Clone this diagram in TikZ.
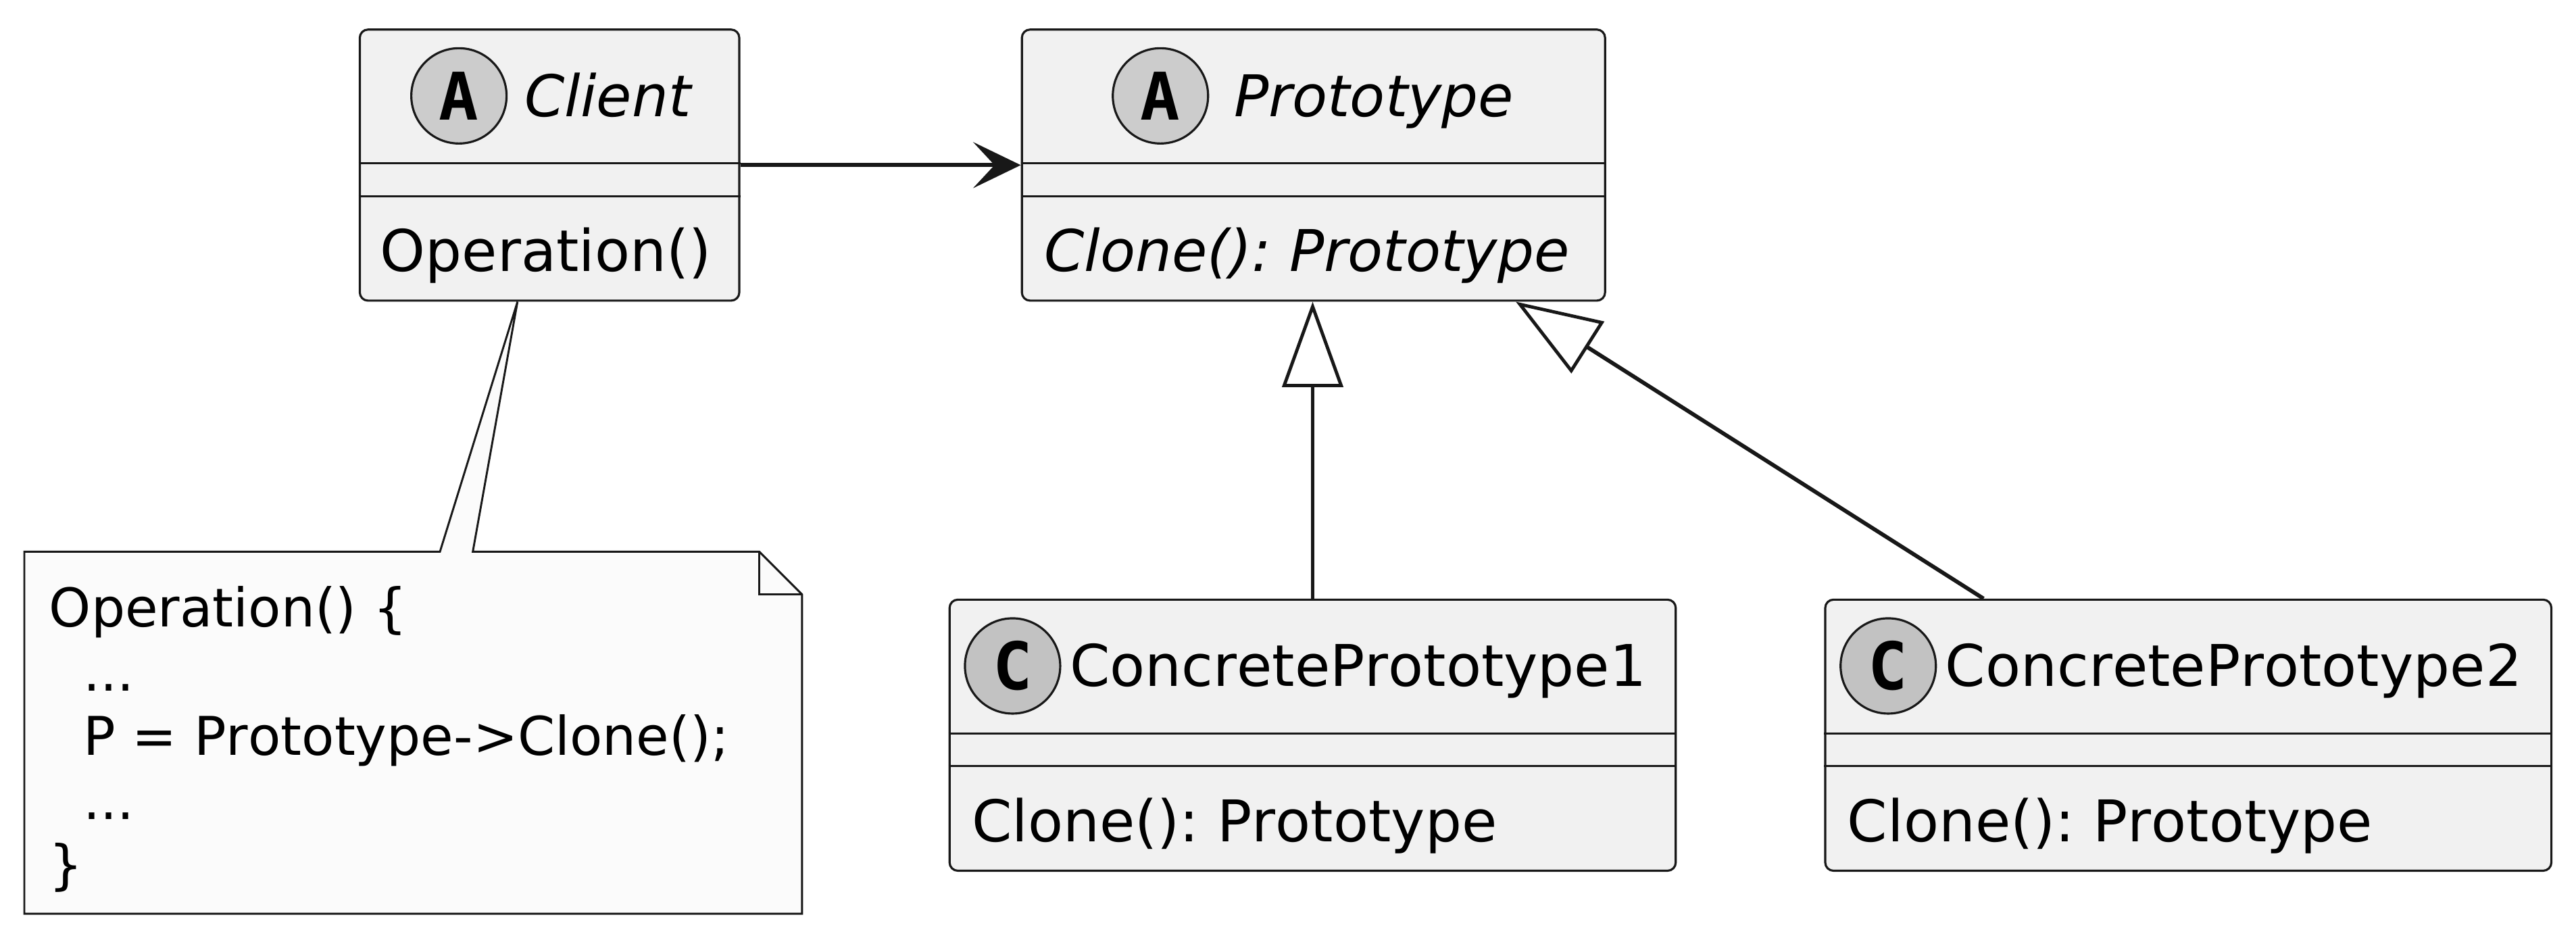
\documentclass[tikz,border=0pt]{standalone}
\usepackage{fontspec}
\setmainfont{DejaVu Sans}[Kerning=Off]
\newfontfamily\spotfont{DejaVu Sans Mono}
\usepackage{tikz}
\usetikzlibrary{arrows.meta, positioning, calc}
\definecolor{lineCol}{HTML}{181818}
\definecolor{boxFill}{HTML}{F1F1F1}
\definecolor{noteFill}{HTML}{FBFBFB}
\definecolor{spotA}{HTML}{CCCCCC}
\definecolor{spotC}{HTML}{C2C2C2}
\newcommand{\umlSize}{\fontsize{35}{39}\selectfont}
\newcommand{\noteSize}{\fontsize{32.5}{39}\selectfont}
\frenchspacing

\begin{document}
\begin{tikzpicture}[x=1pt, y=-1pt, font=\umlSize]
	\tikzstyle{classBox} = [draw=lineCol, fill=boxFill, rectangle, rounded corners=5pt, line width=1.3pt, inner sep=0pt, minimum height=165pt];
	\tikzstyle{spot} = [draw=lineCol, circle, line width=1.3pt, minimum size=58pt, inner sep=0pt, font={\spotfont\bfseries\fontsize{40}{40}\selectfont}];
	\tikzstyle{className} = [inner sep=0pt, anchor=west, text height=25pt, text depth=0pt];
	\tikzstyle{member} = [inner sep=0pt, anchor=base west];
	\tikzstyle{abstractText} = [font={\umlSize\itshape}];
	\tikzstyle{divider} = [draw=lineCol, line width=1.25pt];
	\tikzstyle{assoc} = [draw=lineCol, line width=2.4pt, -{Stealth[length=29pt, width=28pt, inset=13pt]}];
	\tikzstyle{extends} = [draw=lineCol, line width=2.4pt, -{Triangle[length=52pt, width=37pt, fill=white, line width=2pt]}];
	\tikzstyle{noteLine} = [draw=lineCol, line width=1.2pt];

	\useasboundingbox (0,0) rectangle (1568,572);

	% class boxes
	\node[classBox, minimum width=231pt](client) at (334.5,100.5) {};
	\node[classBox, minimum width=355pt](proto) at (799.5,100.5) {};
	\node[classBox, minimum width=442pt](cp1) at (799,447.5) {};
	\node[classBox, minimum width=442pt](cp2) at (1332,447.5) {};

	% dividers
	\foreach \c in {client, proto, cp1, cp2} {
		\draw[divider] ($(\c.north west)+(0,82)$) -- ($(\c.north east)+(0,82)$);
		\draw[divider] ($(\c.north west)+(0,102)$) -- ($(\c.north east)+(0,102)$);
	}

	% headers
	\node[spot, fill=spotA](clientSpot) at ($(client.north west)+(61,41)$) {A};
	\node[className, abstractText, right=10pt of clientSpot](clientName) {Client};
	\node[spot, fill=spotA](protoSpot) at ($(proto.north west)+(85,41)$) {A};
	\node[className, abstractText, right=15pt of protoSpot](protoName) {Prototype};
	\node[spot, fill=spotC](cp1Spot) at ($(cp1.north west)+(39,41)$) {C};
	\node[className, right=5pt of cp1Spot](cp1Name) {ConcretePrototype1};
	\node[spot, fill=spotC](cp2Spot) at ($(cp2.north west)+(39,41)$) {C};
	\node[className, right=5pt of cp2Spot](cp2Name) {ConcretePrototype2};

	% members
	\node[member](clientOp) at ($(client.south west)+(13,-18.5)$) {Operation()};
	\node[member, abstractText](protoClone) at ($(proto.south west)+(14,-18.5)$) {Clone(): Prototype};
	\node[member](cp1Clone) at ($(cp1.south west)+(14,-18.5)$) {Clone(): Prototype};
	\node[member](cp2Clone) at ($(cp2.south west)+(14,-18.5)$) {Clone(): Prototype};

	% note
	\node[minimum width=473pt, minimum height=220pt, inner sep=0pt](note) at (251.5,446) {};
	\coordinate (notePin) at ($(client.south)+(-19.5,0)$);
	\draw[noteLine, fill=noteFill] (note.north west) -- ($(note.north west)+(253,0)$) -- (notePin)
		-- ($(note.north west)+(273,0)$) -- ($(note.north east)+(-26,0)$) -- ($(note.north east)+(0,26)$)
		-- (note.south east) -- (note.south west) -- cycle;
	\draw[noteLine] ($(note.north east)+(-26,0)$) |- ($(note.north east)+(0,26)$);
	\node[inner sep=0pt, anchor=north west, align=left, font=\noteSize](noteText) at ($(note.north west)+(15,21)$)
		{Operation() \{\\ \hspace*{0.636em}...\\ \hspace*{0.636em}P = Prototype->Clone();\\ \hspace*{0.636em}...\\ \}};

	% relations
	\draw[assoc] (client.east) -- (proto.west);
	\draw[extends] (cp1.north) -- (cp1.north |- proto.south);
	\draw[extends] ($(cp2.north west)+(97,0)$) -- ($(proto.south east)+(-55,0)$);
\end{tikzpicture}
\end{document}
